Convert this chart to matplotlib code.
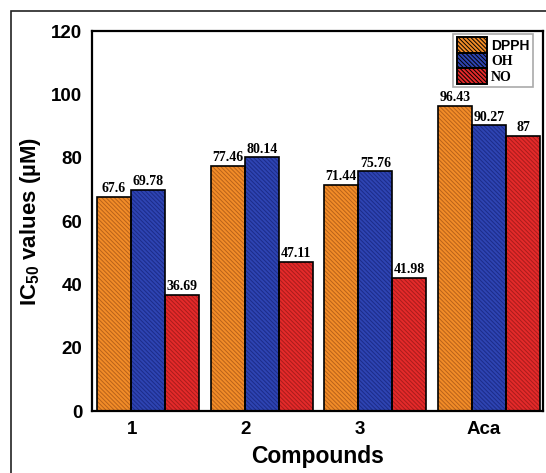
import numpy as np
import matplotlib
matplotlib.use('Agg')
import matplotlib.pyplot as plt
from matplotlib.patches import Rectangle

plt.rcParams['mathtext.fontset'] = 'custom'
plt.rcParams['mathtext.bf'] = 'Liberation Sans:bold'
plt.rcParams['hatch.linewidth'] = 0.7

compounds = ['1', '2', '3', 'Aca']
dpph = [67.6, 77.46, 71.44, 96.43]
oh = [69.78, 80.14, 75.76, 90.27]
no = [36.69, 47.11, 41.98, 87]
series = ['DPPH', 'OH', 'NO']

colors = ['#F28C28', '#2E44B2', '#E42A2A']
hatch_colors = ['#B8621A', '#1C2B88', '#A81C1C']
hatch = '\\' * 8

fig = plt.figure(figsize=(5.46, 4.73), dpi=100)
ax = fig.add_axes([92 / 546, 62 / 473, 451 / 546, 380 / 473])

# outer frame round the whole figure
fig.patches.append(Rectangle((11 / 546, -0.05), 1.1, 1 - 11 / 473 + 0.05,
                             transform=fig.transFigure, fill=False,
                             edgecolor='#222222', linewidth=1.2))

x = np.arange(len(compounds))
w = 0.3
for k, (vals, name) in enumerate(zip([dpph, oh, no], series)):
    pos = x + (k - 1) * w
    ax.bar(pos, vals, w, color=colors[k], edgecolor=hatch_colors[k],
           hatch=hatch, linewidth=0, zorder=2)
    ax.bar(pos, vals, w, fill=False, edgecolor='black', linewidth=1.2, zorder=3)
    # legend handle
    ax.bar(np.nan, np.nan, color=colors[k], edgecolor='black',
           hatch=hatch, linewidth=1.4, label=name)
    for p, v in zip(pos, vals):
        ax.text(p, v + 0.5, f'{v:g}', ha='center', va='bottom',
                family='Liberation Serif', weight='bold', fontsize=10)

ax.set_xlim(-0.494, 3.476)
ax.set_ylim(0, 120)
ax.set_yticks(range(0, 121, 20))
ax.set_xticks([-0.14, 0.86, 1.86, 2.95])
ax.set_xticklabels(compounds)
ax.tick_params(length=0, labelsize=13.5, pad=7)
for lab in ax.get_xticklabels() + ax.get_yticklabels():
    lab.set_family('Liberation Sans')
    lab.set_weight('bold')
for s in ax.spines.values():
    s.set_linewidth(1.6)

ax.set_xlabel('Compounds', family='Liberation Sans', weight='bold',
              fontsize=16.5, labelpad=5)
ax.set_ylabel(r'IC$_\mathbf{50}$ values (µM)', family='Liberation Sans',
              weight='bold', fontsize=16, labelpad=6)

leg = ax.legend(loc='upper right', bbox_to_anchor=(0.978, 0.993),
                prop={'family': 'Liberation Serif', 'weight': 'bold', 'size': 10},
                handlelength=2.2, handleheight=1.35, handletextpad=0.3,
                labelspacing=0.0, borderpad=0.25, borderaxespad=0,
                fancybox=False, framealpha=1)
leg.get_frame().set_edgecolor('#aaaaaa')
leg.get_frame().set_linewidth(1.2)
leg.get_texts()[0].set_family('Liberation Sans')

fig.savefig('out.png', dpi=100)
